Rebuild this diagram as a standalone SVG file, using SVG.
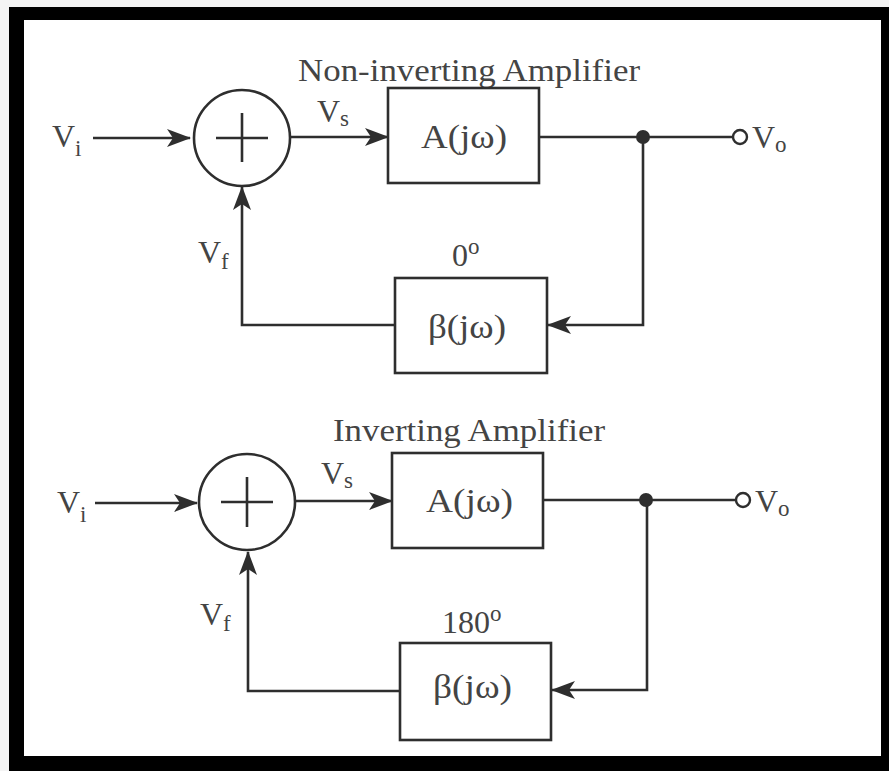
<svg xmlns="http://www.w3.org/2000/svg" width="889" height="771" viewBox="0 0 889 771">
<defs>
<style>
.ln{fill:none;stroke:#2e2e2e;stroke-width:2.6}
.bx{fill:#fff;stroke:#2e2e2e;stroke-width:2.6}
.t{font-family:"Liberation Serif","Times New Roman",serif;fill:#444}
.big{font-size:32px}
.blk{font-size:34px}
.lab{font-size:32px}
.sub{font-size:23px}
</style>
<marker id="ar" viewBox="0 0 24 18" refX="23" refY="9" markerWidth="24" markerHeight="18" markerUnits="userSpaceOnUse" orient="auto">
<path d="M0,0 L24,9 L0,18 L6,9 Z" fill="#2e2e2e"/>
</marker>
</defs>
<rect x="0" y="0" width="889" height="771" fill="#f4f4f4"/>
<rect x="9" y="7" width="880" height="764" fill="#000"/>
<rect x="24" y="20" width="857" height="736" fill="#fff"/>

<g id="connectors">
<path class="ln" d="M93,138 H190" marker-end="url(#ar)"/>
<path class="ln" d="M290,137 H388" marker-end="url(#ar)"/>
<path class="ln" d="M539,137 H733"/>
<path class="ln" d="M643,137 V325 H548" marker-end="url(#ar)"/>
<path class="ln" d="M395,325 H242 V187" marker-end="url(#ar)"/>
<path class="ln" d="M95,503 H197" marker-end="url(#ar)"/>
<path class="ln" d="M295,501 H392" marker-end="url(#ar)"/>
<path class="ln" d="M543,500 H736"/>
<path class="ln" d="M647,500 V690 H552" marker-end="url(#ar)"/>
<path class="ln" d="M400,691 H248 V552" marker-end="url(#ar)"/>
</g>

<g id="top-title"><text class="t big" x="298" y="81" textLength="342" lengthAdjust="spacingAndGlyphs">Non-inverting Amplifier</text></g>
<g id="top-vi"><text class="t lab" x="52" y="147">V<tspan class="sub" dy="9">i</tspan></text></g>
<g id="top-sum">
<circle class="ln" cx="242" cy="138" r="48"/>
<path class="ln" d="M216,138 H268 M242,113 V162"/>
</g>
<g id="top-vs"><text class="t lab" x="317" y="122">V<tspan class="sub" dy="4">s</tspan></text></g>
<g id="top-a">
<rect class="bx" x="388" y="88" width="151" height="95"/>
<text class="t blk" x="421" y="148" textLength="86" lengthAdjust="spacingAndGlyphs">A(jω)</text>
</g>
<g id="top-junction"><circle cx="643" cy="137" r="7" fill="#2e2e2e"/></g>
<g id="top-vo">
<circle cx="740" cy="137" r="7" fill="#fff" stroke="#2e2e2e" stroke-width="2.4"/>
<text class="t lab" x="752" y="148">V<tspan class="sub" dy="4">o</tspan></text>
</g>
<g id="top-beta">
<rect class="bx" x="395" y="278" width="152" height="95"/>
<text class="t blk" x="428" y="338" textLength="78" lengthAdjust="spacingAndGlyphs">β(jω)</text>
</g>
<g id="top-phase"><text class="t lab" x="452" y="266">0<tspan class="sub" dy="-12">o</tspan></text></g>
<g id="top-vf"><text class="t lab" x="198" y="263">V<tspan class="sub" dy="6">f</tspan></text></g>

<g id="bot-title"><text class="t big" x="333" y="441" textLength="272" lengthAdjust="spacingAndGlyphs">Inverting Amplifier</text></g>
<g id="bot-vi"><text class="t lab" x="57" y="513">V<tspan class="sub" dy="9">i</tspan></text></g>
<g id="bot-sum">
<circle class="ln" cx="247" cy="502" r="48"/>
<path class="ln" d="M221,502 H273 M247,477 V527"/>
</g>
<g id="bot-vs"><text class="t lab" x="321" y="484">V<tspan class="sub" dy="4">s</tspan></text></g>
<g id="bot-a">
<rect class="bx" x="392" y="453" width="151" height="95"/>
<text class="t blk" x="426" y="512" textLength="87" lengthAdjust="spacingAndGlyphs">A(jω)</text>
</g>
<g id="bot-junction"><circle cx="646" cy="500" r="7" fill="#2e2e2e"/></g>
<g id="bot-vo">
<circle cx="743" cy="500" r="7" fill="#fff" stroke="#2e2e2e" stroke-width="2.4"/>
<text class="t lab" x="755" y="512">V<tspan class="sub" dy="4">o</tspan></text>
</g>
<g id="bot-beta">
<rect class="bx" x="400" y="643" width="151" height="97"/>
<text class="t blk" x="433" y="698" textLength="79" lengthAdjust="spacingAndGlyphs">β(jω)</text>
</g>
<g id="bot-phase"><text class="t lab" x="442" y="633">180<tspan class="sub" dy="-12">o</tspan></text></g>
<g id="bot-vf"><text class="t lab" x="200" y="625">V<tspan class="sub" dy="6">f</tspan></text></g>
</svg>
